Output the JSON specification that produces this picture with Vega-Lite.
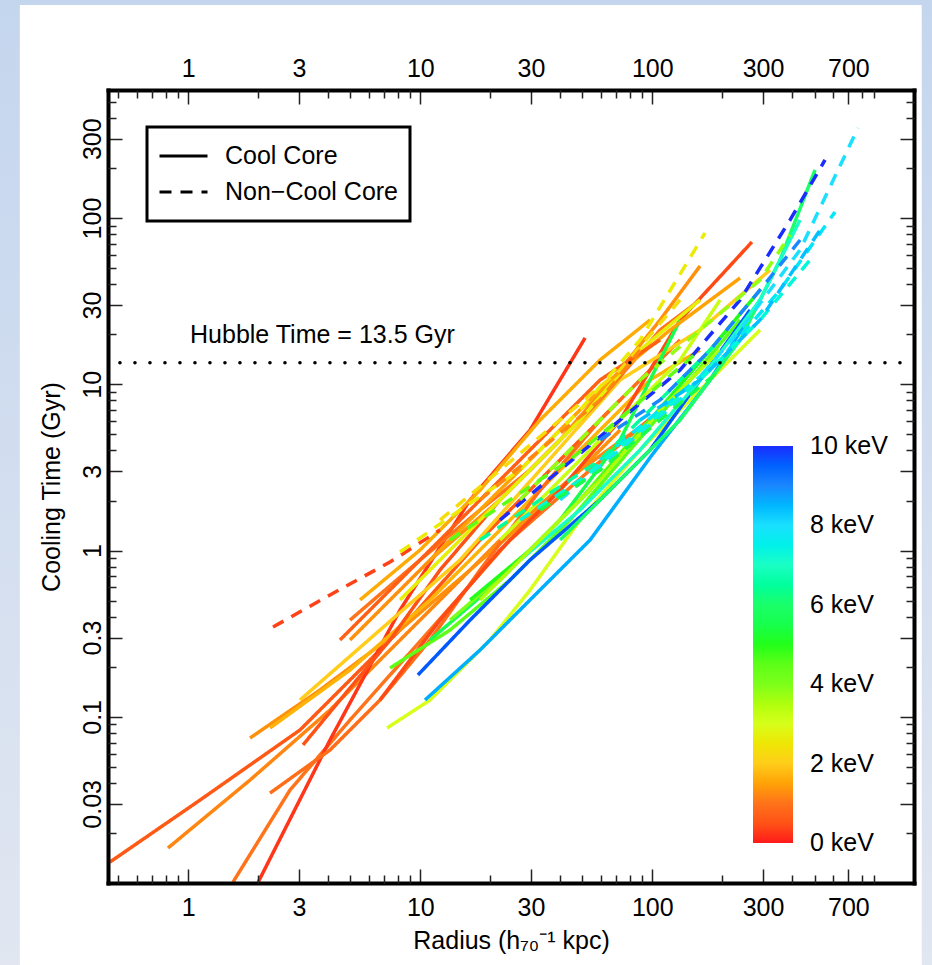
{
  "$schema": "https://vega.github.io/schema/vega-lite/v6.json",
  "width": 806,
  "height": 793,
  "autosize": {"type": "none"},
  "padding": {"left": 108, "top": 90, "right": 18, "bottom": 82},
  "background": "#d2ddef",
  "config": {
    "view": {"stroke": null},
    "font": "Liberation Sans",
    "axis": {"grid": false, "labelFont": "Liberation Sans", "labelFontSize": 25, "labelColor": "black", "titleFont": "Liberation Sans", "titleFontSize": 25, "titleFontWeight": "normal", "titleColor": "black", "tickColor": "#222", "tickWidth": 1.5, "zindex": 1},
    "legend": {"labelFont": "Liberation Sans", "labelColor": "black", "labelLimit": 0}
  },
  "resolve": {"axis": {"x": "independent", "y": "independent"}},
  "layer": [
    {
      "data": {"values": [{}]},
      "mark": {"type": "rect", "fill": {"gradient": "linear", "x1": 0, "y1": 0, "x2": 0, "y2": 1, "stops": [{"offset": 0, "color": "#c3d5ee"}, {"offset": 1, "color": "#e2e7f1"}]}},
      "encoding": {
        "x": {"datum": 0.1, "type": "quantitative", "scale": {"type": "log", "domain": [0.451, 1342], "nice": false}, "axis": null},
        "x2": {"datum": 3000},
        "y": {"datum": 3000, "type": "quantitative", "scale": {"type": "log", "domain": [0.01002, 589], "nice": false}, "axis": null},
        "y2": {"datum": 0.002}
      }
    },
    {
      "data": {"values": [{}]},
      "mark": {"type": "rect", "color": "white"},
      "encoding": {
        "x": {"datum": 0.188, "type": "quantitative", "scale": {"type": "log", "domain": [0.451, 1342], "nice": false}, "axis": null},
        "x2": {"datum": 1449},
        "y": {"datum": 1910, "type": "quantitative", "scale": {"type": "log", "domain": [0.01002, 589], "nice": false}, "axis": null},
        "y2": {"datum": 0.001}
      }
    },
    {
      "data": {"values": [
        {"id":"S1","core":"Cool Core","T":0.6,"r":0.46,"t":0.0134},{"id":"S1","core":"Cool Core","T":0.6,"r":1.124,"t":0.0316},{"id":"S1","core":"Cool Core","T":0.6,"r":3.031,"t":0.0834},{"id":"S1","core":"Cool Core","T":0.6,"r":8.178,"t":0.333},{"id":"S1","core":"Cool Core","T":0.6,"r":18.1,"t":1.158},{"id":"S1","core":"Cool Core","T":0.6,"r":40.03,"t":3.51},{"id":"S1","core":"Cool Core","T":0.6,"r":72.62,"t":8.05},
        {"id":"S2","core":"Cool Core","T":1.2,"r":0.818,"t":0.01627},{"id":"S2","core":"Cool Core","T":1.2,"r":1.846,"t":0.0417},{"id":"S2","core":"Cool Core","T":1.2,"r":4.083,"t":0.11},{"id":"S2","core":"Cool Core","T":1.2,"r":9.975,"t":0.382},{"id":"S2","core":"Cool Core","T":1.2,"r":22.07,"t":1.158},{"id":"S2","core":"Cool Core","T":1.2,"r":48.82,"t":3.05},{"id":"S2","core":"Cool Core","T":1.2,"r":97.77,"t":6.1},
        {"id":"S3","core":"Cool Core","T":1.0,"r":1.56,"t":0.01016},{"id":"S3","core":"Cool Core","T":1.0,"r":2.745,"t":0.0363},{"id":"S3","core":"Cool Core","T":1.0,"r":4.979,"t":0.0958},{"id":"S3","core":"Cool Core","T":1.0,"r":11.02,"t":0.333},{"id":"S3","core":"Cool Core","T":1.0,"r":24.37,"t":1.158},{"id":"S3","core":"Cool Core","T":1.0,"r":53.92,"t":3.05},{"id":"S3","core":"Cool Core","T":1.0,"r":108,"t":7.01},
        {"id":"S4","core":"Cool Core","T":0.2,"r":2.003,"t":0.01016},{"id":"S4","core":"Cool Core","T":0.2,"r":4.083,"t":0.0726},{"id":"S4","core":"Cool Core","T":0.2,"r":8.178,"t":0.439},{"id":"S4","core":"Cool Core","T":0.2,"r":16.39,"t":2.02},{"id":"S4","core":"Cool Core","T":0.2,"r":29.72,"t":5.31},{"id":"S4","core":"Cool Core","T":0.2,"r":51.3,"t":19},
        {"id":"S5","core":"Cool Core","T":1.3,"r":1.846,"t":0.0746},{"id":"S5","core":"Cool Core","T":1.3,"r":3.697,"t":0.1451},{"id":"S5","core":"Cool Core","T":1.3,"r":8.178,"t":0.333},{"id":"S5","core":"Cool Core","T":1.3,"r":16.39,"t":0.764},{"id":"S5","core":"Cool Core","T":1.3,"r":36.25,"t":2.02},{"id":"S5","core":"Cool Core","T":1.3,"r":72.62,"t":5.31},
        {"id":"S6","core":"Cool Core","T":1.7,"r":2.251,"t":0.0857},{"id":"S6","core":"Cool Core","T":1.7,"r":4.979,"t":0.1913},{"id":"S6","core":"Cool Core","T":1.7,"r":11.02,"t":0.505},{"id":"S6","core":"Cool Core","T":1.7,"r":24.37,"t":1.528},{"id":"S6","core":"Cool Core","T":1.7,"r":53.92,"t":4.63},{"id":"S6","core":"Cool Core","T":1.7,"r":97.77,"t":10.62},{"id":"S6","core":"Cool Core","T":1.7,"r":160.6,"t":16.09},
        {"id":"S7","core":"Cool Core","T":0.9,"r":2.251,"t":0.0348},{"id":"S7","core":"Cool Core","T":0.9,"r":4.083,"t":0.0632},{"id":"S7","core":"Cool Core","T":0.9,"r":6.706,"t":0.1263},{"id":"S7","core":"Cool Core","T":0.9,"r":11.02,"t":0.29},{"id":"S7","core":"Cool Core","T":0.9,"r":18.1,"t":0.764},{"id":"S7","core":"Cool Core","T":0.9,"r":32.82,"t":2.31},{"id":"S7","core":"Cool Core","T":0.9,"r":59.54,"t":6.1},{"id":"S7","core":"Cool Core","T":0.9,"r":131.7,"t":18.48},
        {"id":"S8","core":"Cool Core","T":0.5,"r":3.123,"t":0.0678},{"id":"S8","core":"Cool Core","T":0.5,"r":4.509,"t":0.1263},{"id":"S8","core":"Cool Core","T":0.5,"r":7.405,"t":0.29},{"id":"S8","core":"Cool Core","T":0.5,"r":12.16,"t":0.764},{"id":"S8","core":"Cool Core","T":0.5,"r":22.07,"t":2.02},{"id":"S8","core":"Cool Core","T":0.5,"r":40.03,"t":4.63},
        {"id":"S9","core":"Cool Core","T":0.4,"r":6.706,"t":0.1263},{"id":"S9","core":"Cool Core","T":0.4,"r":12.16,"t":0.382},{"id":"S9","core":"Cool Core","T":0.4,"r":22.07,"t":1.008},{"id":"S9","core":"Cool Core","T":0.4,"r":40.03,"t":2.31},{"id":"S9","core":"Cool Core","T":0.4,"r":72.62,"t":6.1},{"id":"S9","core":"Cool Core","T":0.4,"r":131.7,"t":24.38},{"id":"S9","core":"Cool Core","T":0.4,"r":268.7,"t":71.8},
        {"id":"S10","core":"Cool Core","T":1.3,"r":4.979,"t":0.29},{"id":"S10","core":"Cool Core","T":1.3,"r":11.02,"t":0.878},{"id":"S10","core":"Cool Core","T":1.3,"r":22.07,"t":2.02},{"id":"S10","core":"Cool Core","T":1.3,"r":40.03,"t":4.63},{"id":"S10","core":"Cool Core","T":1.3,"r":72.62,"t":12.2},{"id":"S10","core":"Cool Core","T":1.3,"r":108,"t":24.38},{"id":"S10","core":"Cool Core","T":1.3,"r":160.6,"t":51.5},
        {"id":"S11","core":"Cool Core","T":2.0,"r":3.031,"t":0.1263},{"id":"S11","core":"Cool Core","T":2.0,"r":6.706,"t":0.333},{"id":"S11","core":"Cool Core","T":2.0,"r":14.84,"t":0.878},{"id":"S11","core":"Cool Core","T":2.0,"r":32.82,"t":3.05},{"id":"S11","core":"Cool Core","T":2.0,"r":72.62,"t":10.62},{"id":"S11","core":"Cool Core","T":2.0,"r":160.6,"t":21.22},{"id":"S11","core":"Cool Core","T":2.0,"r":321.7,"t":48.72},
        {"id":"S12","core":"Cool Core","T":1.0,"r":4.979,"t":0.382},{"id":"S12","core":"Cool Core","T":1.0,"r":9.975,"t":0.878},{"id":"S12","core":"Cool Core","T":1.0,"r":18.1,"t":1.755},{"id":"S12","core":"Cool Core","T":1.0,"r":29.72,"t":3.05},{"id":"S12","core":"Cool Core","T":1.0,"r":59.54,"t":8.05},{"id":"S12","core":"Cool Core","T":1.0,"r":108,"t":21.22},{"id":"S12","core":"Cool Core","T":1.0,"r":160.6,"t":32.16},
        {"id":"S13","core":"Cool Core","T":3.0,"r":7.19,"t":0.0857},{"id":"S13","core":"Cool Core","T":3.0,"r":11.02,"t":0.1263},{"id":"S13","core":"Cool Core","T":3.0,"r":19.98,"t":0.29},{"id":"S13","core":"Cool Core","T":3.0,"r":29.72,"t":0.579},{"id":"S13","core":"Cool Core","T":3.0,"r":48.82,"t":1.528},{"id":"S13","core":"Cool Core","T":3.0,"r":88.56,"t":4.03},{"id":"S13","core":"Cool Core","T":3.0,"r":160.6,"t":9.25},{"id":"S13","core":"Cool Core","T":3.0,"r":291.3,"t":21.22},
        {"id":"S14","core":"Cool Core","T":4.5,"r":7.405,"t":0.1967},{"id":"S14","core":"Cool Core","T":4.5,"r":13.44,"t":0.333},{"id":"S14","core":"Cool Core","T":4.5,"r":24.37,"t":0.666},{"id":"S14","core":"Cool Core","T":4.5,"r":44.21,"t":1.528},{"id":"S14","core":"Cool Core","T":4.5,"r":80.19,"t":4.03},{"id":"S14","core":"Cool Core","T":4.5,"r":145.4,"t":10.62},{"id":"S14","core":"Cool Core","T":4.5,"r":238.9,"t":24.38},
        {"id":"S15","core":"Cool Core","T":9.6,"r":9.77,"t":0.1786},{"id":"S15","core":"Cool Core","T":9.6,"r":16.39,"t":0.382},{"id":"S15","core":"Cool Core","T":9.6,"r":29.72,"t":0.878},{"id":"S15","core":"Cool Core","T":9.6,"r":59.54,"t":2.02},{"id":"S15","core":"Cool Core","T":9.6,"r":97.77,"t":4.03},{"id":"S15","core":"Cool Core","T":9.6,"r":160.6,"t":10.62},{"id":"S15","core":"Cool Core","T":9.6,"r":263.8,"t":28},
        {"id":"S16","core":"Cool Core","T":8.6,"r":10.48,"t":0.1263},{"id":"S16","core":"Cool Core","T":8.6,"r":18.1,"t":0.2524},{"id":"S16","core":"Cool Core","T":8.6,"r":29.72,"t":0.505},{"id":"S16","core":"Cool Core","T":8.6,"r":53.92,"t":1.158},{"id":"S16","core":"Cool Core","T":8.6,"r":99.7,"t":3.76},{"id":"S16","core":"Cool Core","T":8.6,"r":177.4,"t":10.62},{"id":"S16","core":"Cool Core","T":8.6,"r":291.3,"t":32.16},
        {"id":"S17","core":"Cool Core","T":5.5,"r":11.02,"t":0.29},{"id":"S17","core":"Cool Core","T":5.5,"r":22.07,"t":0.666},{"id":"S17","core":"Cool Core","T":5.5,"r":40.03,"t":1.528},{"id":"S17","core":"Cool Core","T":5.5,"r":72.62,"t":4.63},{"id":"S17","core":"Cool Core","T":5.5,"r":131.7,"t":24.38},
        {"id":"S18","core":"Cool Core","T":6.0,"r":40.03,"t":1.158},{"id":"S18","core":"Cool Core","T":6.0,"r":72.62,"t":2.66},{"id":"S18","core":"Cool Core","T":6.0,"r":131.7,"t":6.1},{"id":"S18","core":"Cool Core","T":6.0,"r":238.9,"t":18.48},{"id":"S18","core":"Cool Core","T":6.0,"r":355.3,"t":55.96},{"id":"S18","core":"Cool Core","T":6.0,"r":502.6,"t":194.6},
        {"id":"S19","core":"Cool Core","T":4.0,"r":13.44,"t":0.382},{"id":"S19","core":"Cool Core","T":4.0,"r":26.91,"t":0.878},{"id":"S19","core":"Cool Core","T":4.0,"r":48.82,"t":2.02},{"id":"S19","core":"Cool Core","T":4.0,"r":88.56,"t":5.31},{"id":"S19","core":"Cool Core","T":4.0,"r":160.6,"t":12.2},
        {"id":"S20","core":"Cool Core","T":2.7,"r":8.178,"t":0.505},{"id":"S20","core":"Cool Core","T":2.7,"r":14.84,"t":1.158},{"id":"S20","core":"Cool Core","T":2.7,"r":26.91,"t":2.66},{"id":"S20","core":"Cool Core","T":2.7,"r":48.82,"t":6.1},{"id":"S20","core":"Cool Core","T":2.7,"r":88.56,"t":16.09},{"id":"S20","core":"Cool Core","T":2.7,"r":160.6,"t":32.16},
        {"id":"S21","core":"Cool Core","T":1.5,"r":11.02,"t":0.878},{"id":"S21","core":"Cool Core","T":1.5,"r":19.98,"t":2.02},{"id":"S21","core":"Cool Core","T":1.5,"r":36.25,"t":4.63},{"id":"S21","core":"Cool Core","T":1.5,"r":65.75,"t":10.62},{"id":"S21","core":"Cool Core","T":1.5,"r":119.3,"t":21.22},{"id":"S21","core":"Cool Core","T":1.5,"r":238.9,"t":43.6},
        {"id":"S22","core":"Cool Core","T":0.7,"r":4.509,"t":0.29},{"id":"S22","core":"Cool Core","T":0.7,"r":8.178,"t":0.666},{"id":"S22","core":"Cool Core","T":0.7,"r":16.39,"t":1.755},{"id":"S22","core":"Cool Core","T":0.7,"r":32.82,"t":4.63},{"id":"S22","core":"Cool Core","T":0.7,"r":59.54,"t":10.62},{"id":"S22","core":"Cool Core","T":0.7,"r":108,"t":18.48},
        {"id":"S23","core":"Cool Core","T":5.0,"r":16.39,"t":0.505},{"id":"S23","core":"Cool Core","T":5.0,"r":29.72,"t":1.008},{"id":"S23","core":"Cool Core","T":5.0,"r":53.92,"t":2.31},{"id":"S23","core":"Cool Core","T":5.0,"r":97.77,"t":6.1},{"id":"S23","core":"Cool Core","T":5.0,"r":177.4,"t":16.09},{"id":"S23","core":"Cool Core","T":5.0,"r":291.3,"t":36.93},
        {"id":"S24","core":"Cool Core","T":7.0,"r":26.91,"t":0.878},{"id":"S24","core":"Cool Core","T":7.0,"r":48.82,"t":1.755},{"id":"S24","core":"Cool Core","T":7.0,"r":88.56,"t":4.03},{"id":"S24","core":"Cool Core","T":7.0,"r":160.6,"t":10.62},{"id":"S24","core":"Cool Core","T":7.0,"r":291.3,"t":32.16},{"id":"S24","core":"Cool Core","T":7.0,"r":433.3,"t":97.4},
        {"id":"S25","core":"Cool Core","T":3.5,"r":18.1,"t":0.505},{"id":"S25","core":"Cool Core","T":3.5,"r":32.82,"t":1.158},{"id":"S25","core":"Cool Core","T":3.5,"r":59.54,"t":2.66},{"id":"S25","core":"Cool Core","T":3.5,"r":108,"t":7.01},{"id":"S25","core":"Cool Core","T":3.5,"r":195.9,"t":16.09},
        {"id":"S26","core":"Cool Core","T":1.6,"r":5.499,"t":0.505},{"id":"S26","core":"Cool Core","T":1.6,"r":9.975,"t":1.008},{"id":"S26","core":"Cool Core","T":1.6,"r":18.1,"t":2.31},{"id":"S26","core":"Cool Core","T":1.6,"r":32.82,"t":6.1},{"id":"S26","core":"Cool Core","T":1.6,"r":59.54,"t":14.01},{"id":"S26","core":"Cool Core","T":1.6,"r":97.77,"t":24.38},
        {"id":"S27","core":"Cool Core","T":3.2,"r":22.07,"t":1.158},{"id":"S27","core":"Cool Core","T":3.2,"r":40.03,"t":2.66},{"id":"S27","core":"Cool Core","T":3.2,"r":72.62,"t":6.1},{"id":"S27","core":"Cool Core","T":3.2,"r":131.7,"t":14.01},{"id":"S27","core":"Cool Core","T":3.2,"r":195.9,"t":32.16},
        {"id":"D1","core":"Non−Cool Core","T":0.3,"r":2.319,"t":0.347},{"id":"D1","core":"Non−Cool Core","T":0.3,"r":4.083,"t":0.541},{"id":"D1","core":"Non−Cool Core","T":0.3,"r":7.405,"t":0.854},{"id":"D1","core":"Non−Cool Core","T":0.3,"r":12.16,"t":1.33},
        {"id":"D2","core":"Non−Cool Core","T":2.6,"r":8.178,"t":0.981},{"id":"D2","core":"Non−Cool Core","T":2.6,"r":14.84,"t":1.755},{"id":"D2","core":"Non−Cool Core","T":2.6,"r":26.91,"t":3.05},{"id":"D2","core":"Non−Cool Core","T":2.6,"r":48.82,"t":7.01},{"id":"D2","core":"Non−Cool Core","T":2.6,"r":88.56,"t":18.48},{"id":"D2","core":"Non−Cool Core","T":2.6,"r":168.7,"t":81.3},
        {"id":"D3","core":"Non−Cool Core","T":10,"r":22.07,"t":1.528},{"id":"D3","core":"Non−Cool Core","T":10,"r":40.03,"t":3.05},{"id":"D3","core":"Non−Cool Core","T":10,"r":72.62,"t":6.1},{"id":"D3","core":"Non−Cool Core","T":10,"r":131.7,"t":12.2},{"id":"D3","core":"Non−Cool Core","T":10,"r":238.9,"t":32.16},{"id":"D3","core":"Non−Cool Core","T":10,"r":392.4,"t":97.4},{"id":"D3","core":"Non−Cool Core","T":10,"r":554.9,"t":223.5},
        {"id":"D4","core":"Non−Cool Core","T":8,"r":40.03,"t":2.02},{"id":"D4","core":"Non−Cool Core","T":8,"r":72.62,"t":4.03},{"id":"D4","core":"Non−Cool Core","T":8,"r":131.7,"t":8.05},{"id":"D4","core":"Non−Cool Core","T":8,"r":238.9,"t":21.22},{"id":"D4","core":"Non−Cool Core","T":8,"r":433.3,"t":64.3},{"id":"D4","core":"Non−Cool Core","T":8,"r":769.6,"t":347.9},
        {"id":"D5","core":"Non−Cool Core","T":7.8,"r":59.54,"t":3.51},{"id":"D5","core":"Non−Cool Core","T":7.8,"r":108,"t":7.01},{"id":"D5","core":"Non−Cool Core","T":7.8,"r":195.9,"t":14.01},{"id":"D5","core":"Non−Cool Core","T":7.8,"r":355.3,"t":36.93},{"id":"D5","core":"Non−Cool Core","T":7.8,"r":612.9,"t":108.7},
        {"id":"D6","core":"Non−Cool Core","T":3.8,"r":26.91,"t":2.02},{"id":"D6","core":"Non−Cool Core","T":3.8,"r":48.82,"t":4.63},{"id":"D6","core":"Non−Cool Core","T":3.8,"r":88.56,"t":10.62},{"id":"D6","core":"Non−Cool Core","T":3.8,"r":160.6,"t":21.22},{"id":"D6","core":"Non−Cool Core","T":3.8,"r":291.3,"t":42.42},{"id":"D6","core":"Non−Cool Core","T":3.8,"r":392.4,"t":79.1},
        {"id":"D7","core":"Non−Cool Core","T":6.5,"r":18.1,"t":1.158},{"id":"D7","core":"Non−Cool Core","T":6.5,"r":32.82,"t":2.02},{"id":"D7","core":"Non−Cool Core","T":6.5,"r":59.54,"t":3.51},{"id":"D7","core":"Non−Cool Core","T":6.5,"r":108,"t":8.05},{"id":"D7","core":"Non−Cool Core","T":6.5,"r":195.9,"t":18.48},
        {"id":"D8","core":"Non−Cool Core","T":2.3,"r":12.16,"t":1.528},{"id":"D8","core":"Non−Cool Core","T":2.3,"r":22.07,"t":3.05},{"id":"D8","core":"Non−Cool Core","T":2.3,"r":40.03,"t":6.1},{"id":"D8","core":"Non−Cool Core","T":2.3,"r":72.62,"t":12.2},{"id":"D8","core":"Non−Cool Core","T":2.3,"r":131.7,"t":32.16},
        {"id":"D9","core":"Non−Cool Core","T":9.0,"r":59.54,"t":4.63},{"id":"D9","core":"Non−Cool Core","T":9.0,"r":108,"t":8.05},{"id":"D9","core":"Non−Cool Core","T":9.0,"r":177.4,"t":16.09},{"id":"D9","core":"Non−Cool Core","T":9.0,"r":291.3,"t":36.93},{"id":"D9","core":"Non−Cool Core","T":9.0,"r":433.3,"t":73.8},
        {"id":"D10","core":"Non−Cool Core","T":4.5,"r":13.44,"t":1.158},{"id":"D10","core":"Non−Cool Core","T":4.5,"r":24.37,"t":2.02},{"id":"D10","core":"Non−Cool Core","T":4.5,"r":44.21,"t":3.51},{"id":"D10","core":"Non−Cool Core","T":4.5,"r":80.19,"t":7.01},{"id":"D10","core":"Non−Cool Core","T":4.5,"r":160.6,"t":16.09},
        {"id":"D11","core":"Non−Cool Core","T":7.2,"r":26.91,"t":1.528},{"id":"D11","core":"Non−Cool Core","T":7.2,"r":48.82,"t":2.66},{"id":"D11","core":"Non−Cool Core","T":7.2,"r":88.56,"t":5.31},{"id":"D11","core":"Non−Cool Core","T":7.2,"r":160.6,"t":10.62},{"id":"D11","core":"Non−Cool Core","T":7.2,"r":291.3,"t":24.38},{"id":"D11","core":"Non−Cool Core","T":7.2,"r":478.5,"t":55.96},
        {"id":"D12","core":"Non−Cool Core","T":1.2,"r":18.1,"t":2.02},{"id":"D12","core":"Non−Cool Core","T":1.2,"r":32.82,"t":4.03},{"id":"D12","core":"Non−Cool Core","T":1.2,"r":59.54,"t":8.05},{"id":"D12","core":"Non−Cool Core","T":1.2,"r":88.56,"t":16.09},
        {"id":"D13","core":"Non−Cool Core","T":5.5,"r":32.82,"t":1.755},{"id":"D13","core":"Non−Cool Core","T":5.5,"r":59.54,"t":3.05},{"id":"D13","core":"Non−Cool Core","T":5.5,"r":108,"t":6.1},{"id":"D13","core":"Non−Cool Core","T":5.5,"r":195.9,"t":12.2},
        {"id":"D14","core":"Non−Cool Core","T":8.4,"r":88.56,"t":6.1},{"id":"D14","core":"Non−Cool Core","T":8.4,"r":160.6,"t":10.62},{"id":"D14","core":"Non−Cool Core","T":8.4,"r":291.3,"t":24.38},{"id":"D14","core":"Non−Cool Core","T":8.4,"r":528.4,"t":84.8}
      ]},
      "mark": {"type": "line", "strokeWidth": 3.5, "clip": true},
      "encoding": {
        "x": {"field": "r", "type": "quantitative", "scale": {"type": "log", "domain": [0.451, 1342], "nice": false},
              "axis": {"orient": "bottom", "values": [1,3,10,30,100,300,700], "format": "~g", "tickSize": -14, "labelPadding": 26, "labelOverlap": false, "labelFlush": false, "domain": true, "domainWidth": 4, "domainColor": "black", "domainCap": "square", "title": "Radius (h₇₀⁻¹ kpc)", "titlePadding": 8, "zindex": 1}},
        "y": {"field": "t", "type": "quantitative", "scale": {"type": "log", "domain": [0.01002, 589], "nice": false},
              "axis": {"orient": "left", "values": [0.03,0.1,0.3,1,3,10,30,100,300], "format": "~g", "tickSize": -14, "labelPadding": 22, "labelAngle": -90, "labelAlign": "center", "labelBaseline": "alphabetic", "labelOverlap": false, "labelFlush": false, "domain": true, "domainWidth": 4, "domainColor": "black", "domainCap": "square", "title": "Cooling Time (Gyr)", "titlePadding": 16, "zindex": 1}},
        "color": {"field": "T", "type": "quantitative",
                  "scale": {"domain": [0,1,2,3,4,5,6,7,8,9,10], "range": ["#ff1a1a","#ff731a","#ffcd1a","#d7ff1a","#7dff1a","#23ff1a","#1aff6a","#1affc4","#1ae0ff","#1a87ff","#1a2dff"]},
                  "legend": {"orient": "none", "legendX": 645, "legendY": 356, "direction": "vertical", "title": null, "gradientLength": 397, "gradientThickness": 40, "gradientStrokeWidth": 0, "values": [0,2,4,6,8,10], "labelExpr": "datum.value + ' keV'", "labelFontSize": 25, "labelBaseline": "middle", "labelOffset": 17, "labelOverlap": false, "padding": 0,
                             "encode": {"labels": {"update": {"baseline": {"value": "middle"}}}}}},
        "strokeDash": {"field": "core", "type": "nominal",
                       "scale": {"domain": ["Cool Core", "Non−Cool Core"], "range": [[1,0],[12,9]]},
                       "legend": {"orient": "none", "legendX": 39, "legendY": 37, "title": null, "symbolType": "stroke", "symbolSize": 2304, "clipHeight": 36, "symbolStrokeWidth": 3, "symbolStrokeColor": "black", "labelOffset": 16, "labelFontSize": 25, "labelLimit": 0, "strokeColor": "black", "padding": 11, "rowPadding": 0,
                                  "encode": {"legend": {"update": {"strokeWidth": {"value": 3}}}}}},
        "detail": {"field": "id", "type": "nominal"}
      }
    },
    {
      "data": {"values": [{"r": 1, "t": 1}]},
      "mark": {"type": "point", "opacity": 0},
      "encoding": {
        "x": {"field": "r", "type": "quantitative", "scale": {"type": "log", "domain": [0.451, 1342], "nice": false},
              "axis": {"orient": "bottom", "values": [0.5,0.6,0.7,0.8,0.9,2,4,5,6,7,8,9,20,40,50,60,70,80,90,200,400,500,600,800,900], "labels": false, "tickSize": -8, "domain": false, "title": null, "zindex": 1}},
        "y": {"field": "t", "type": "quantitative", "scale": {"type": "log", "domain": [0.01002, 589], "nice": false},
              "axis": {"orient": "left", "values": [0.02,0.04,0.05,0.06,0.07,0.08,0.09,0.2,0.4,0.5,0.6,0.7,0.8,0.9,2,4,5,6,7,8,9,20,40,50,60,70,80,90,200,400,500], "labels": false, "tickSize": -8, "domain": false, "title": null, "zindex": 1}}
      }
    },
    {
      "data": {"values": [{"r": 1, "t": 1}]},
      "mark": {"type": "point", "opacity": 0},
      "encoding": {
        "x": {"field": "r", "type": "quantitative", "scale": {"type": "log", "domain": [0.451, 1342], "nice": false},
              "axis": {"orient": "top", "values": [1,3,10,30,100,300,700], "format": "~g", "tickSize": -14, "labelPadding": 23, "labelOverlap": false, "labelFlush": false, "domain": true, "domainWidth": 4, "domainColor": "black", "domainCap": "square", "title": null, "zindex": 1}},
        "y": {"field": "t", "type": "quantitative", "scale": {"type": "log", "domain": [0.01002, 589], "nice": false},
              "axis": {"orient": "right", "values": [0.03,0.1,0.3,1,3,10,30,100,300], "labels": false, "tickSize": -14, "domain": true, "domainWidth": 4, "domainColor": "black", "domainCap": "square", "title": null, "zindex": 1}}
      }
    },
    {
      "data": {"values": [{"r": 1, "t": 1}]},
      "mark": {"type": "point", "opacity": 0},
      "encoding": {
        "x": {"field": "r", "type": "quantitative", "scale": {"type": "log", "domain": [0.451, 1342], "nice": false},
              "axis": {"orient": "top", "values": [0.5,0.6,0.7,0.8,0.9,2,4,5,6,7,8,9,20,40,50,60,70,80,90,200,400,500,600,800,900], "labels": false, "tickSize": -8, "domain": false, "title": null, "zindex": 1}},
        "y": {"field": "t", "type": "quantitative", "scale": {"type": "log", "domain": [0.01002, 589], "nice": false},
              "axis": {"orient": "right", "values": [0.02,0.04,0.05,0.06,0.07,0.08,0.09,0.2,0.4,0.5,0.6,0.7,0.8,0.9,2,4,5,6,7,8,9,20,40,50,60,70,80,90,200,400,500], "labels": false, "tickSize": -8, "domain": false, "title": null, "zindex": 1}}
      }
    },
    {
      "data": {"values": [{}]},
      "mark": {"type": "rule", "color": "black", "strokeWidth": 3.5, "strokeCap": "round", "strokeDash": [0.1, 14.9], "strokeDashOffset": 1},
      "encoding": {
        "y": {"datum": 13.5, "type": "quantitative", "scale": {"type": "log", "domain": [0.01002, 589], "nice": false}, "axis": null}
      }
    },
    {
      "data": {"values": [{}]},
      "mark": {"type": "text", "text": "Hubble Time = 13.5 Gyr", "align": "left", "baseline": "alphabetic", "fontSize": 25, "font": "Liberation Sans", "color": "black"},
      "encoding": {
        "x": {"datum": 1.018, "type": "quantitative", "scale": {"type": "log", "domain": [0.451, 1342], "nice": false}, "axis": null},
        "y": {"datum": 17.7, "type": "quantitative", "scale": {"type": "log", "domain": [0.01002, 589], "nice": false}, "axis": null}
      }
    }
  ]
}
